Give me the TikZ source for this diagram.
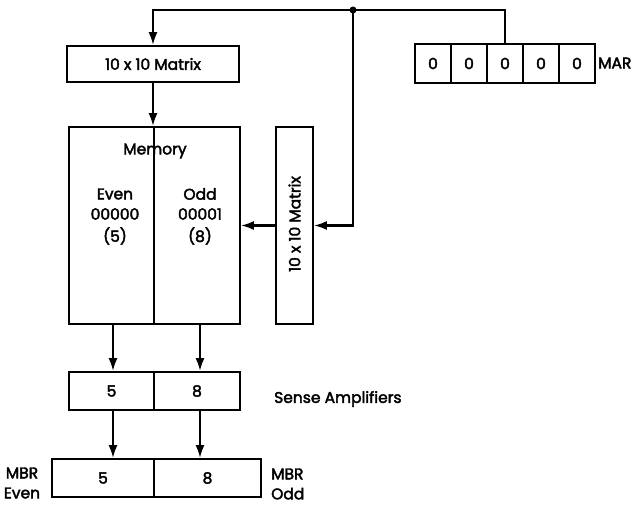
\documentclass[tikz,border=0pt]{standalone}
\usepackage{fontspec}
\newfontfamily\medfont{Poppins}[FakeBold=2.5]
\usetikzlibrary{arrows.meta}
\tikzset{
  txt/.style={font=\medfont\fontsize{15.5}{20}\selectfont},
  box/.style={draw, line width=1.8pt, inner sep=0pt, txt},
  conn/.style={line width=2.2pt, -{Latex[length=13pt,width=9pt]}},
  wire/.style={line width=2.2pt},
  lbl/.style={txt, inner sep=0pt, align=center}
}
\begin{document}
\begin{tikzpicture}[x=1pt,y=-1pt]
\useasboundingbox (0,0) rectangle (636,508);
% top matrix
\node[box, minimum width=172pt, minimum height=36pt] (mat1) at (153,64) {10 x 10 Matrix};
% memory
\node[box, minimum width=171pt, minimum height=197pt] (mem) at (154.5,225.5) {};
\draw[line width=1.8pt] (mem.north -| 154,0) coordinate (mdt) -- (mem.south -| 154,0) coordinate (mdb);
\node[lbl] (memt) at (155,151) {Memory};
\node[lbl] (even) at (115,194) {Even};
\node[lbl] (evena) at (115,214) {00000};
\node[lbl] (evenv) at (115,236) {(5)};
\node[lbl] (odd) at (200,194) {Odd};
\node[lbl] (odda) at (200,214) {00001};
\node[lbl] (oddv) at (200,236) {(8)};
% vertical matrix
\node[box, minimum width=37pt, minimum height=197pt] (mat2) at (294.5,225.5) {};
\node[lbl, rotate=90] (mat2t) at (294.5,224) {10 x 10 Matrix};
% MAR
\foreach \i/\cx in {1/433,2/469,3/505,4/541,5/577}{
  \node[box, minimum width=36pt, minimum height=39pt] (mar\i) at (\cx,63.5) {0};
}
\node[lbl, anchor=west] (marl) at (598,63) {MAR};
% sense amplifiers
\node[box, minimum width=85pt, minimum height=38pt] (sa5) at (111.5,391) {5};
\node[box, minimum width=86pt, minimum height=38pt] (sa8) at (197,391) {8};
\node[lbl, anchor=west] (sal) at (274,399) {Sense Amplifiers};
% MBR
\node[box, minimum width=102pt, minimum height=38pt] (mbr5) at (103,478) {5};
\node[box, minimum width=107pt, minimum height=38pt] (mbr8) at (207.5,478) {8};
\node[lbl] (mbre) at (22,483) {MBR\\Even};
\node[lbl, align=left, anchor=west] (mbro) at (271,484) {MBR\\Odd};
% connectors
\coordinate (jn) at (353,10);
\draw[wire] (mar3.north) |- (jn);
\draw[conn] (jn) -| (mat1.north);
\draw[conn] (jn) |- (mat2.east);
\fill (jn) circle (3.5pt);
\draw[conn] (mat2.west) -- (mem.east);
\draw[conn] (mat1.south) -- (mat1.south |- mem.north);
\draw[conn] (mem.south -| 113,0) -- (sa5.north -| 113,0);
\draw[conn] (mem.south -| 200,0) -- (sa8.north -| 200,0);
\draw[conn] (sa5.south -| 113,0) -- (mbr5.north -| 113,0);
\draw[conn] (sa8.south -| 200,0) -- (mbr8.north -| 200,0);
\end{tikzpicture}
\end{document}
